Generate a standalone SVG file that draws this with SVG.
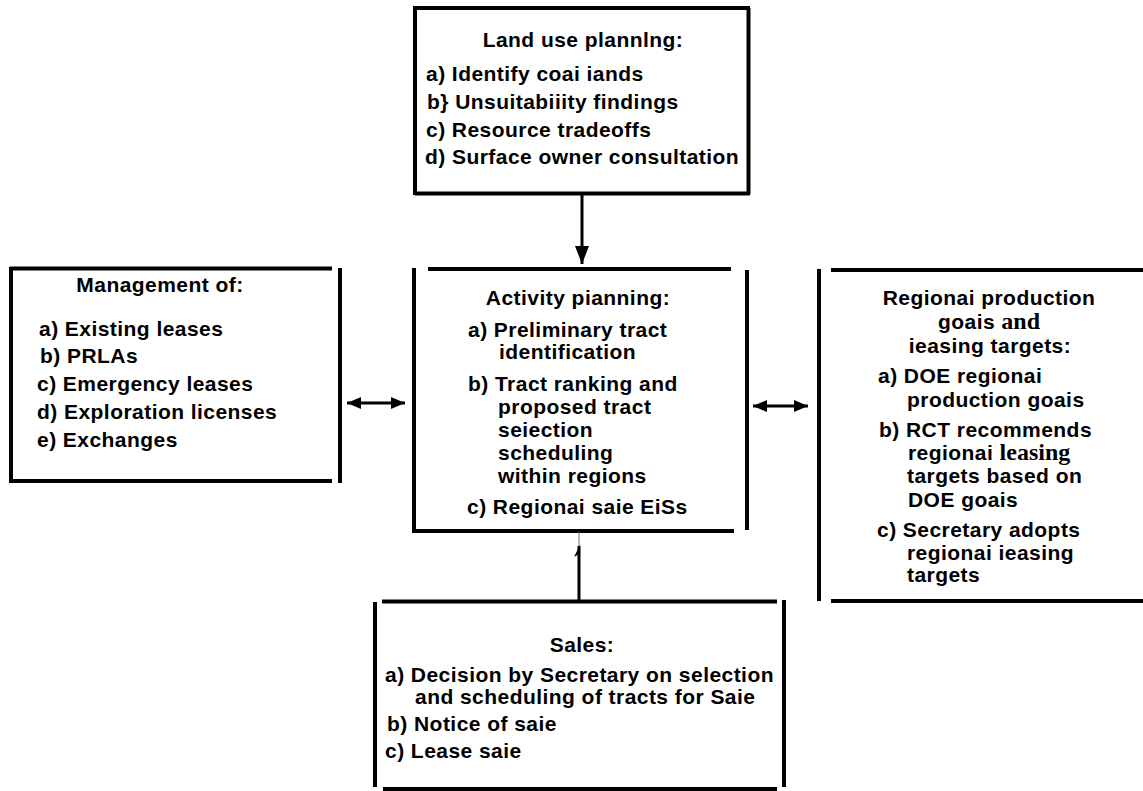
<svg xmlns="http://www.w3.org/2000/svg" width="1143" height="791" viewBox="0 0 1143 791">
<style>
.ln{stroke:#000;stroke-width:4;fill:none}
.cn{stroke:#000;stroke-width:3;fill:none}
.t{font-family:"Liberation Sans",Arial,Helvetica,sans-serif;font-weight:bold;font-size:21px;letter-spacing:0.45px;fill:#000}
.h{text-anchor:middle}
.sf{font-family:"Liberation Serif","Times New Roman",serif;font-size:24px;font-weight:bold;letter-spacing:0}
</style>
<defs>
<marker id="ah" viewBox="0 0 14 12" refX="14" refY="6" markerWidth="14" markerHeight="12" markerUnits="userSpaceOnUse" orient="auto-start-reverse">
<path d="M0,0 L14,6 L0,12 z" fill="#000"/>
</marker>
<marker id="ahv" viewBox="0 0 18 14" refX="18" refY="7" markerWidth="18" markerHeight="14" markerUnits="userSpaceOnUse" orient="auto">
<path d="M0,0 L18,7 L0,14 z" fill="#000"/>
</marker>
</defs>
<rect width="1143" height="791" fill="#fff"/>

<g id="land-use-planning">
<path class="ln" d="M415,8 H750 M748.5,8 V194 M415,193.5 H750 M415,6 V195"/>
<text class="t h" x="583" y="47">Land use plannlng:</text>
<text class="t" x="426" y="81">a) Identify coai iands</text>
<text class="t" x="427" y="109">b} Unsuitabiiity findings</text>
<text class="t" x="426" y="137">c) Resource tradeoffs</text>
<text class="t" x="425" y="164">d) Surface owner consultation</text>
</g>

<g id="management">
<path class="ln" d="M10,268.5 H332 M11,267 V483 M10,481 H332 M340,268 V483"/>
<text class="t h" x="160" y="292">Management of:</text>
<text class="t" x="39" y="336">a) Existing leases</text>
<text class="t" x="40" y="363">b) PRLAs</text>
<text class="t" x="37" y="391">c) Emergency leases</text>
<text class="t" x="37" y="419">d) Exploration licenses</text>
<text class="t" x="37" y="447">e) Exchanges</text>
</g>

<g id="activity-planning">
<path class="ln" d="M428,269 H731 M414,268 V533 M412,531 H734 M747,270 V530"/>
<text class="t h" x="578" y="305">Activity  pianning:</text>
<text class="t" x="468" y="337">a) Preliminary tract</text>
<text class="t" x="499" y="359">identification</text>
<text class="t" x="468" y="391">b) Tract ranking and</text>
<text class="t" x="498" y="414">proposed  tract</text>
<text class="t" x="498" y="437">seiection</text>
<text class="t" x="498" y="460">scheduling</text>
<text class="t" x="498" y="483">within regions</text>
<text class="t" x="467" y="514">c) Regionai saie EiSs</text>
</g>

<g id="regional-goals">
<path class="ln" d="M831,270 H1143 M819,269 V601 M831,601 H1143"/>
<text class="t h" x="989" y="305">Regionai  production</text>
<text class="t h" x="989" y="329">goais <tspan class="sf">and</tspan></text>
<text class="t h" x="990" y="353">ieasing targets:</text>
<text class="t" x="878" y="383">a) DOE regionai</text>
<text class="t" x="907" y="407">production  goais</text>
<text class="t" x="879" y="437">b) RCT recommends</text>
<text class="t" x="908" y="460">regionai <tspan class="sf">leasing</tspan></text>
<text class="t" x="907" y="483">targets based on</text>
<text class="t" x="908" y="507">DOE  goais</text>
<text class="t" x="877" y="537">c) Secretary adopts</text>
<text class="t" x="907" y="560">regionai  ieasing</text>
<text class="t" x="907" y="582">targets</text>
</g>

<g id="sales">
<path class="ln" d="M382,601.5 H777 M375,602 V787 M784,600 V787 M383,789 H777"/>
<text class="t h" x="582" y="652">Sales:</text>
<text class="t" x="385" y="682">a) Decision by Secretary on selection</text>
<text class="t" x="415" y="704">and scheduling of tracts for Saie</text>
<text class="t" x="387" y="731">b) Notice of saie</text>
<text class="t" x="385" y="758">c) Lease saie</text>
</g>

<g id="connectors">
<line class="cn" x1="582" y1="195" x2="582" y2="264" marker-end="url(#ahv)"/>
<line class="cn" x1="347" y1="403" x2="405" y2="403" marker-start="url(#ah)" marker-end="url(#ah)"/>
<line class="cn" x1="753" y1="406" x2="808" y2="406" marker-start="url(#ah)" marker-end="url(#ah)"/>
<line x1="579" y1="532" x2="579" y2="546" stroke="#777" stroke-width="1"/>
<line class="cn" x1="579" y1="600" x2="579" y2="546"/>
<path d="M580.5,544 L574,557 L577.5,555 z" fill="#000"/>
</g>
</svg>
